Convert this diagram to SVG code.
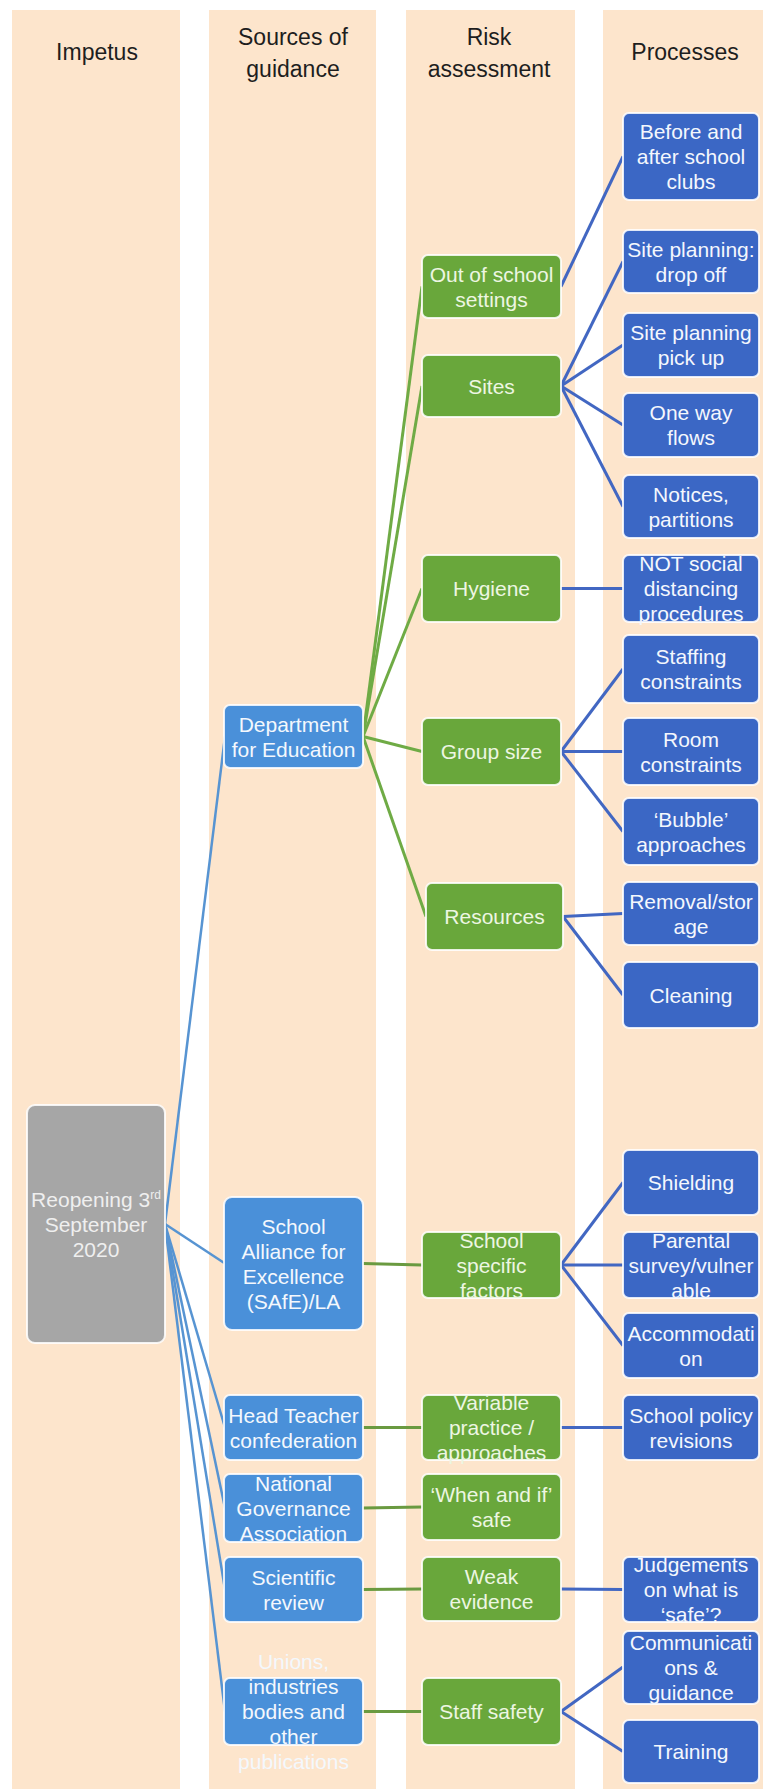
<svg xmlns="http://www.w3.org/2000/svg" width="763" height="1789" viewBox="0 0 763 1789">
<style>
.col{fill:#FDE5CC}
.hd{font-family:"Liberation Sans",Arial,sans-serif;font-size:23px;fill:#1e1e1e;text-anchor:middle}
.t{font-family:"Liberation Sans",Arial,sans-serif;font-size:21px;text-anchor:middle}
.proc rect{fill:#3B67C5;stroke:#ffffff;stroke-opacity:0.85;stroke-width:2}
.proc text{fill:#F4F7FD}
.risk rect{fill:#69A73B;stroke:#ffffff;stroke-opacity:0.85;stroke-width:2}
.risk text{fill:#EDF6E2}
.src rect{fill:#4A90D9;stroke:#ffffff;stroke-opacity:0.85;stroke-width:2}
.src text{fill:#F4F8FD}
.imp rect{fill:#A6A6A6;stroke:#ffffff;stroke-opacity:0.85;stroke-width:2}
.imp text{fill:#EFEFEF}
.cb{stroke:#5794D2;stroke-width:2.5;fill:none}
.cg{stroke:#6FAB45;stroke-width:3;fill:none}
.cd{stroke:#4267C2;stroke-width:3;fill:none}
.cs{stroke:#6A9A40;stroke-width:3;fill:none}
</style>
<rect x="0" y="0" width="763" height="1789" fill="#ffffff"/>
<g id="columns">
<rect class="col" x="12" y="10" width="168" height="1779"/>
<rect class="col" x="209" y="10" width="167" height="1779"/>
<rect class="col" x="406" y="10" width="169" height="1779"/>
<rect class="col" x="603" y="10" width="160" height="1779"/>
</g>
<g id="headers">
<text class="hd" x="97" y="60">Impetus</text>
<text class="hd" x="293" y="45">Sources of</text>
<text class="hd" x="293" y="77">guidance</text>
<text class="hd" x="489" y="45">Risk</text>
<text class="hd" x="489" y="77">assessment</text>
<text class="hd" x="685" y="60">Processes</text>
</g>
<g id="connectors">
<!-- impetus to sources -->
<line class="cb" x1="165" y1="1224" x2="225" y2="736.5"/>
<line class="cb" x1="165" y1="1224" x2="225" y2="1263.5"/>
<line class="cb" x1="165" y1="1224" x2="225" y2="1427.5"/>
<line class="cb" x1="165" y1="1224" x2="225" y2="1508"/>
<line class="cb" x1="165" y1="1224" x2="225" y2="1589.5"/>
<line class="cb" x1="165" y1="1224" x2="225" y2="1711.5"/>
<!-- DfE to risks -->
<line class="cg" x1="363" y1="736.5" x2="422" y2="286.5"/>
<line class="cg" x1="363" y1="736.5" x2="422" y2="386"/>
<line class="cg" x1="363" y1="736.5" x2="422" y2="588.5"/>
<line class="cg" x1="363" y1="736.5" x2="422" y2="751.5"/>
<line class="cg" x1="363" y1="736.5" x2="426" y2="916.5"/>
<!-- other sources to risks -->
<line class="cs" x1="363" y1="1263.5" x2="422" y2="1265"/>
<line class="cs" x1="363" y1="1427.5" x2="422" y2="1427.5"/>
<line class="cs" x1="363" y1="1508" x2="422" y2="1507"/>
<line class="cs" x1="363" y1="1589.5" x2="422" y2="1589"/>
<line class="cs" x1="363" y1="1711.5" x2="422" y2="1711.5"/>
<!-- risks to processes -->
<line class="cd" x1="561" y1="286.5" x2="623" y2="156.5"/>
<line class="cd" x1="561" y1="386" x2="623" y2="261.5"/>
<line class="cd" x1="561" y1="386" x2="623" y2="345"/>
<line class="cd" x1="561" y1="386" x2="623" y2="425"/>
<line class="cd" x1="561" y1="386" x2="623" y2="506.5"/>
<line class="cd" x1="561" y1="588.5" x2="623" y2="588.5"/>
<line class="cd" x1="561" y1="751.5" x2="623" y2="669"/>
<line class="cd" x1="561" y1="751.5" x2="623" y2="751.5"/>
<line class="cd" x1="561" y1="751.5" x2="623" y2="831.5"/>
<line class="cd" x1="563" y1="916.5" x2="623" y2="913.5"/>
<line class="cd" x1="563" y1="916.5" x2="623" y2="995"/>
<line class="cd" x1="561" y1="1265" x2="623" y2="1182.5"/>
<line class="cd" x1="561" y1="1265" x2="623" y2="1265"/>
<line class="cd" x1="561" y1="1265" x2="623" y2="1345.5"/>
<line class="cd" x1="561" y1="1427.5" x2="623" y2="1427.5"/>
<line class="cd" x1="561" y1="1589" x2="623" y2="1589.5"/>
<line class="cd" x1="561" y1="1711.5" x2="623" y2="1667"/>
<line class="cd" x1="561" y1="1711.5" x2="623" y2="1751.5"/>
</g>
<!-- Impetus -->
<g id="reopening" class="imp t">
<rect x="27" y="1105" width="138" height="238" rx="8"/>
<text x="96" y="1206.5">Reopening 3<tspan font-size="12" dy="-8">rd</tspan></text>
<text x="96" y="1231.5">September</text>
<text x="96" y="1256.5">2020</text>
</g>
<!-- Sources -->
<g id="dfe" class="src t">
<rect x="224" y="705" width="139" height="63" rx="6"/>
<text x="293.5" y="731.5">Department</text>
<text x="293.5" y="756.5">for Education</text>
</g>
<g id="safe" class="src t">
<rect x="224" y="1197" width="139" height="133" rx="8"/>
<text x="293.5" y="1233.5">School</text>
<text x="293.5" y="1258.5">Alliance for</text>
<text x="293.5" y="1283.5">Excellence</text>
<text x="293.5" y="1308.5">(SAfE)/LA</text>
</g>
<g id="headteacher" class="src t">
<rect x="224" y="1395" width="139" height="65" rx="6"/>
<text x="293.5" y="1422.5">Head Teacher</text>
<text x="293.5" y="1447.5">confederation</text>
</g>
<g id="nga" class="src t">
<rect x="224" y="1474" width="139" height="68" rx="6"/>
<text x="293.5" y="1490.5">National</text>
<text x="293.5" y="1515.5">Governance</text>
<text x="293.5" y="1540.5">Association</text>
</g>
<g id="scientific" class="src t">
<rect x="224" y="1557" width="139" height="65" rx="6"/>
<text x="293.5" y="1584.5">Scientific</text>
<text x="293.5" y="1609.5">review</text>
</g>
<g id="unions" class="src t">
<rect x="224" y="1678" width="139" height="67" rx="6"/>
<text x="293.5" y="1669">Unions,</text>
<text x="293.5" y="1694">industries</text>
<text x="293.5" y="1719">bodies and</text>
<text x="293.5" y="1744">other</text>
<text x="293.5" y="1769">publications</text>
</g>
<!-- Risk assessment -->
<g id="outofschool" class="risk t">
<rect x="422" y="255" width="139" height="63" rx="6"/>
<text x="491.5" y="281.5">Out of school</text>
<text x="491.5" y="306.5">settings</text>
</g>
<g id="sites" class="risk t">
<rect x="422" y="355" width="139" height="62" rx="6"/>
<text x="491.5" y="393.5">Sites</text>
</g>
<g id="hygiene" class="risk t">
<rect x="422" y="555" width="139" height="67" rx="6"/>
<text x="491.5" y="596">Hygiene</text>
</g>
<g id="groupsize" class="risk t">
<rect x="422" y="718" width="139" height="67" rx="6"/>
<text x="491.5" y="759">Group size</text>
</g>
<g id="resources" class="risk t">
<rect x="426" y="883" width="137" height="67" rx="6"/>
<text x="494.5" y="924">Resources</text>
</g>
<g id="schoolspecific" class="risk t">
<rect x="422" y="1232" width="139" height="66" rx="6"/>
<text x="491.5" y="1247.5">School</text>
<text x="491.5" y="1272.5">specific</text>
<text x="491.5" y="1297.5">factors</text>
</g>
<g id="variable" class="risk t">
<rect x="422" y="1395" width="139" height="65" rx="6"/>
<text x="491.5" y="1410">Variable</text>
<text x="491.5" y="1435">practice /</text>
<text x="491.5" y="1460">approaches</text>
</g>
<g id="whenandif" class="risk t">
<rect x="422" y="1474" width="139" height="66" rx="6"/>
<text x="491.5" y="1502">‘When and if’</text>
<text x="491.5" y="1527">safe</text>
</g>
<g id="weakevidence" class="risk t">
<rect x="422" y="1557" width="139" height="64" rx="6"/>
<text x="491.5" y="1584">Weak</text>
<text x="491.5" y="1609">evidence</text>
</g>
<g id="staffsafety" class="risk t">
<rect x="422" y="1678" width="139" height="67" rx="6"/>
<text x="491.5" y="1719">Staff safety</text>
</g>
<!-- Processes -->
<g id="beforeafter" class="proc t">
<rect x="623" y="113" width="136" height="87" rx="6"/>
<text x="691" y="139">Before and</text>
<text x="691" y="164">after school</text>
<text x="691" y="189">clubs</text>
</g>
<g id="dropoff" class="proc t">
<rect x="623" y="230" width="136" height="63" rx="6"/>
<text x="691" y="256.5">Site planning:</text>
<text x="691" y="281.5">drop off</text>
</g>
<g id="pickup" class="proc t">
<rect x="623" y="313" width="136" height="64" rx="6"/>
<text x="691" y="340">Site planning</text>
<text x="691" y="365">pick up</text>
</g>
<g id="oneway" class="proc t">
<rect x="623" y="393" width="136" height="64" rx="6"/>
<text x="691" y="420">One way</text>
<text x="691" y="445">flows</text>
</g>
<g id="notices" class="proc t">
<rect x="623" y="475" width="136" height="63" rx="6"/>
<text x="691" y="501.5">Notices,</text>
<text x="691" y="526.5">partitions</text>
</g>
<g id="notsocial" class="proc t">
<rect x="623" y="555" width="136" height="67" rx="6"/>
<text x="691" y="571">NOT social</text>
<text x="691" y="596">distancing</text>
<text x="691" y="621">procedures</text>
</g>
<g id="staffing" class="proc t">
<rect x="623" y="635" width="136" height="68" rx="6"/>
<text x="691" y="664">Staffing</text>
<text x="691" y="689">constraints</text>
</g>
<g id="room" class="proc t">
<rect x="623" y="718" width="136" height="67" rx="6"/>
<text x="691" y="746.5">Room</text>
<text x="691" y="771.5">constraints</text>
</g>
<g id="bubble" class="proc t">
<rect x="623" y="798" width="136" height="67" rx="6"/>
<text x="691" y="826.5">‘Bubble’</text>
<text x="691" y="851.5">approaches</text>
</g>
<g id="removal" class="proc t">
<rect x="623" y="882" width="136" height="63" rx="6"/>
<text x="691" y="908.5">Removal/stor</text>
<text x="691" y="933.5">age</text>
</g>
<g id="cleaning" class="proc t">
<rect x="623" y="962" width="136" height="66" rx="6"/>
<text x="691" y="1002.5">Cleaning</text>
</g>
<g id="shielding" class="proc t">
<rect x="623" y="1150" width="136" height="65" rx="6"/>
<text x="691" y="1190">Shielding</text>
</g>
<g id="parental" class="proc t">
<rect x="623" y="1232" width="136" height="66" rx="6"/>
<text x="691" y="1247.5">Parental</text>
<text x="691" y="1272.5">survey/vulner</text>
<text x="691" y="1297.5">able</text>
</g>
<g id="accommodation" class="proc t">
<rect x="623" y="1313" width="136" height="65" rx="6"/>
<text x="691" y="1340.5">Accommodati</text>
<text x="691" y="1365.5">on</text>
</g>
<g id="policy" class="proc t">
<rect x="623" y="1395" width="136" height="65" rx="6"/>
<text x="691" y="1422.5">School policy</text>
<text x="691" y="1447.5">revisions</text>
</g>
<g id="judgements" class="proc t">
<rect x="623" y="1557" width="136" height="65" rx="6"/>
<text x="691" y="1572">Judgements</text>
<text x="691" y="1597">on what is</text>
<text x="691" y="1622">‘safe’?</text>
</g>
<g id="communications" class="proc t">
<rect x="623" y="1631" width="136" height="73" rx="6"/>
<text x="691" y="1649.5">Communicati</text>
<text x="691" y="1674.5">ons &amp;</text>
<text x="691" y="1699.5">guidance</text>
</g>
<g id="training" class="proc t">
<rect x="623" y="1720" width="136" height="63" rx="6"/>
<text x="691" y="1759">Training</text>
</g>
</svg>
